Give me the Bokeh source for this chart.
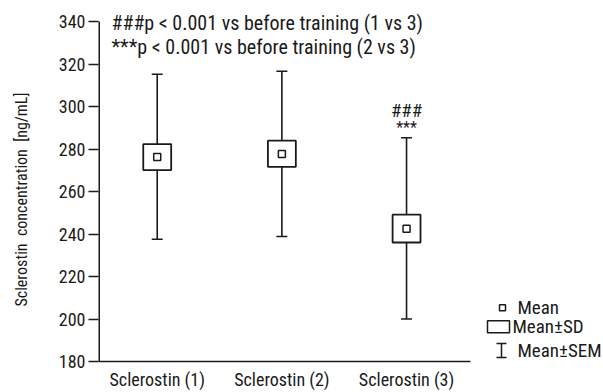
from bokeh.plotting import figure
from bokeh.layouts import row
from bokeh.models import Range1d, FixedTicker, Label
from bokeh.embed import file_html
from bokeh.resources import INLINE

FONT = "Roboto Condensed"

categories = ["Sclerostin (1)", "Sclerostin (2)", "Sclerostin (3)"]
xpos = [1, 2, 3]
means = [276.2, 277.6, 242.5]
box_low = [270.1, 271.6, 236.0]
box_high = [282.3, 283.9, 249.1]
whisk_low = [237.5, 238.8, 200.0]
whisk_high = [315.2, 316.6, 285.3]
y_ticks = [180, 200, 220, 240, 260, 280, 300, 320, 340]
note_lines = ["###p < 0.001 vs before training (1 vs 3)",
              "***p < 0.001 vs before training (2 vs 3)"]
legend_labels = ["Mean", "Mean\u00b1SD", "Mean\u00b1SEM"]

INK = "#1a1a1a"
XS, XE = 0.529, 3.513
YS, YE = 180, 348

p = figure(width=480, height=392, x_range=Range1d(XS, XE),
           y_range=Range1d(YS, YE), toolbar_location=None,
           output_backend="svg", min_border_left=98, min_border_right=10,
           min_border_top=4, min_border_bottom=29)
p.grid.visible = False
p.outline_line_color = None

# y axis (label padded so it is centred on the 180-340 span, as in the original)
p.yaxis.ticker = FixedTicker(ticks=y_ticks)
p.yaxis.axis_label = "Sclerostin\u00a0 concentration\u00a0 [ng/mL]" + "\u00a0" * 9
p.yaxis.axis_label_text_font = FONT
p.yaxis.axis_label_text_font_style = "normal"
p.yaxis.axis_label_text_font_size = "16px"
p.yaxis.axis_label_text_color = INK
p.yaxis.axis_label_standoff = 25
p.yaxis.major_label_text_font = FONT
p.yaxis.major_label_text_font_size = "18px"
p.yaxis.major_label_text_color = INK
p.yaxis.major_tick_out = 10
p.yaxis.major_tick_in = 0
p.yaxis.minor_tick_line_color = None
p.yaxis.major_label_standoff = 3
p.yaxis.axis_line_color = None
p.yaxis.major_tick_line_width = 1.5
p.yaxis.major_tick_line_color = INK
# visible part of the y axis line, only up to the last tick
p.segment(x0=[XS], y0=[y_ticks[0]], x1=[XS], y1=[y_ticks[-1]], line_color=INK, line_width=3)

# x axis
p.xaxis.ticker = FixedTicker(ticks=xpos)
p.xaxis.major_label_overrides = {x: c for x, c in zip(xpos, categories)}
p.xaxis.major_tick_line_color = None
p.xaxis.minor_tick_line_color = None
p.xaxis.major_tick_out = 0
p.xaxis.major_label_standoff = 7
p.xaxis.major_label_text_font = FONT
p.xaxis.major_label_text_font_size = "18px"
p.xaxis.major_label_text_color = INK
p.xaxis.axis_line_width = 1.5
p.xaxis.axis_line_color = INK

cap = 0.044
half_box = 0.112
p.segment(x0=xpos, y0=whisk_low, x1=xpos, y1=whisk_high, line_color=INK, line_width=1.6)
p.segment(x0=[x - cap for x in xpos], y0=whisk_high, x1=[x + cap for x in xpos],
          y1=whisk_high, line_color=INK, line_width=1.6)
p.segment(x0=[x - cap for x in xpos], y0=whisk_low, x1=[x + cap for x in xpos],
          y1=whisk_low, line_color=INK, line_width=1.6)
p.quad(left=[x - half_box for x in xpos], right=[x + half_box for x in xpos],
       bottom=box_low, top=box_high, fill_color="white", line_color=INK, line_width=1.8)
p.scatter(x=xpos, y=means, marker="square", size=7, fill_color="white",
          line_color=INK, line_width=1.5)

p.add_layout(Label(x=3, y=whisk_high[2], y_offset=27, text="###", text_align="center",
                   text_baseline="middle", text_font=FONT, text_font_size="19px",
                   text_color=INK))
p.add_layout(Label(x=3, y=whisk_high[2], y_offset=10, text="***", text_align="center",
                   text_baseline="middle", text_font=FONT, text_font_size="16px",
                   text_color=INK))

for i, line in enumerate(note_lines):
    p.add_layout(Label(x=XS, y=y_ticks[-1], x_offset=13, y_offset=-1 - 24 * i, text=line,
                       text_align="left", text_baseline="middle", text_font=FONT,
                       text_font_size="20px", text_color=INK))

# legend panel: its frame is aligned with the main frame (y 4..363 on the page)
q = figure(width=123, height=392, x_range=Range1d(480, 603), y_range=Range1d(363, 4),
           toolbar_location=None, output_backend="svg", min_border=0,
           min_border_top=4, min_border_bottom=29)
q.axis.visible = False
q.grid.visible = False
q.outline_line_color = None

ly = [309, 328, 352]
q.scatter(x=[502], y=[ly[0]], marker="square", size=6, fill_color="white",
          line_color=INK, line_width=1.5)
q.rect(x=[498], y=[ly[1]], width=22, height=12, fill_color="white",
       line_color=INK, line_width=1.5)
q.segment(x0=[501], y0=[ly[2] - 7], x1=[501], y1=[ly[2] + 7], line_color=INK, line_width=1.5)
q.segment(x0=[496, 496], y0=[ly[2] - 7, ly[2] + 7], x1=[506, 506],
          y1=[ly[2] - 7, ly[2] + 7], line_color=INK, line_width=1.5)
q.text(x=[517, 512, 517], y=ly, text=legend_labels, text_align="left", text_baseline="middle",
       text_font={"value": FONT}, text_font_size={"value": "19px"}, text_color=INK)

layout = row(p, q, spacing=0)
open("out.html", "w").write(file_html(layout, INLINE))
